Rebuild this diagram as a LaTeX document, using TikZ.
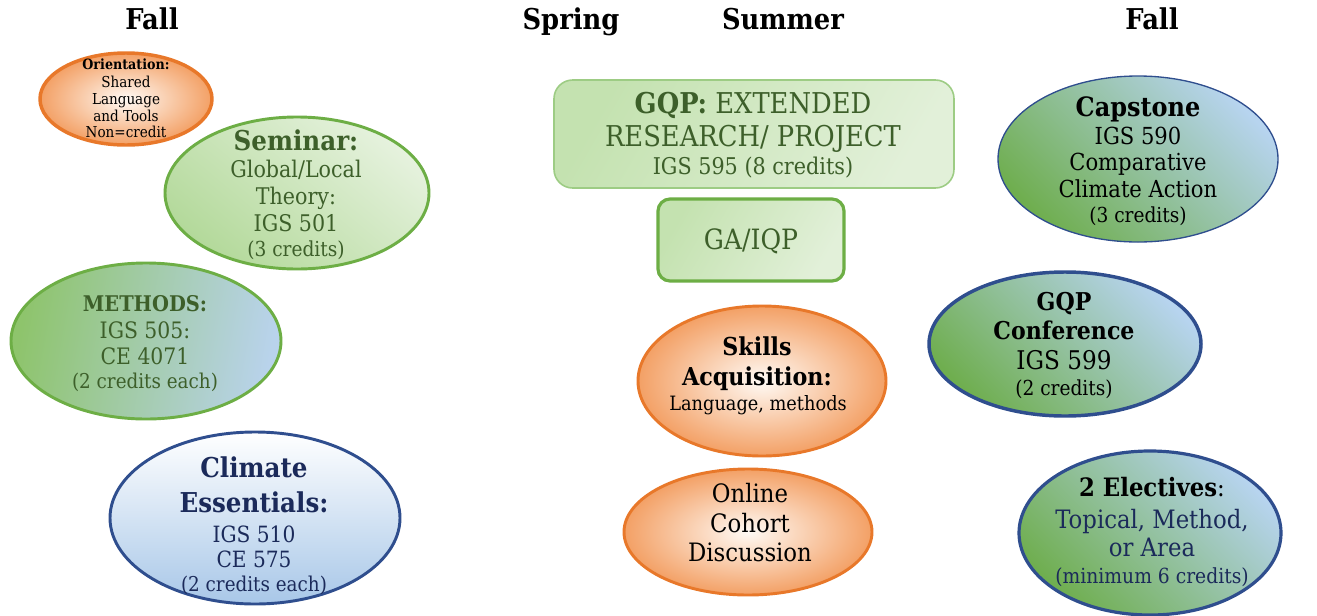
\documentclass[tikz,border=0pt]{standalone}
\usepackage{fontspec}
\setmainfont{DejaVu Serif Condensed}
\usetikzlibrary{shapes.geometric}
\definecolor{orB}{HTML}{E8782A}
\definecolor{orF}{HTML}{F3A065}
\definecolor{grB}{HTML}{6DAE45}
\definecolor{grL}{HTML}{B3D99A}
\definecolor{grW}{HTML}{E6F2DE}
\definecolor{grM}{HTML}{8EC46C}
\definecolor{blL}{HTML}{B9D3EC}
\definecolor{blB}{HTML}{2F4E8E}
\definecolor{blF}{HTML}{A8C7E8}
\definecolor{gDk}{HTML}{3D5F2A}
\definecolor{navy}{HTML}{1B2A5A}
\definecolor{cG}{HTML}{6FAE4F}
\definecolor{cB}{HTML}{B7D4EF}
\definecolor{rF1}{HTML}{C4E2B0}
\definecolor{rF2}{HTML}{E2F0D9}
\definecolor{rB}{HTML}{9DCC84}
\newcommand{\fs}[1]{\fontsize{#1}{#1}\selectfont}
\tikzset{
  ell/.style={shape=ellipse, inner sep=0pt, line width=2.2pt},
  ln/.style={inner sep=0pt, anchor=base, font=\fs{#1}, yshift=-0.34*#1 pt},
  lnb/.style={ln=#1, font=\fs{#1}\bfseries},
  hd/.style={lnb=21.5},
}
\begin{document}
\begin{tikzpicture}[x=0.75pt,y=-0.75pt]
\useasboundingbox (0,0) rectangle (1317,615);
% headers
\node[hd] (h1) at (152,20) {Fall};
\node[hd] (h2) at (571,20) {Spring};
\node[hd] (h3) at (783,20) {Summer};
\node[hd] (h4) at (1152,20) {Fall};

% Orientation
\node[ell, draw=orB, line width=2.6pt, inner color=orange!4, outer color=orF,
  minimum width=172*0.75pt, minimum height=92*0.75pt] (ori) at (126,99) {};
\node[lnb=10.6] (o1) at (126,65) {Orientation:};
\node[ln=11.3] (o2) at (126,82) {Shared};
\node[ln=11.3] (o3) at (126,99) {Language};
\node[ln=11.3] (o4) at (126,116) {and Tools};
\node[ln=11.3] (o5) at (126,132) {Non=credit};

% Seminar
\node[ell, draw=grB, bottom color=grL, top color=grW, shading angle=-40,
  minimum width=264*0.75pt, minimum height=152*0.75pt] (sem) at (297,193) {};
\node[lnb=20.5, text=gDk] (s1) at (296,141) {Seminar:};
\node[ln=17.2, text=gDk] (s2) at (296,170) {Global/Local};
\node[ln=17.2, text=gDk] (s3) at (296,197) {Theory:};
\node[ln=17.2, text=gDk] (s4) at (296,224) {IGS 501};
\node[ln=15.5, text=gDk] (s5) at (296,249) {(3 credits)};

% Methods
\node[ell, draw=grB, left color=grM, right color=blL, shading angle=80,
  minimum width=270*0.75pt, minimum height=156*0.75pt] (met) at (146,341) {};
\node[lnb=16.2, text=gDk] (m1) at (145,304) {METHODS:};
\node[ln=17, text=gDk] (m2) at (145,331) {IGS 505:};
\node[ln=17, text=gDk] (m3) at (145,357) {CE 4071};
\node[ln=15.3, text=gDk] (m4) at (145,382) {(2 credits each)};

% Climate essentials
\node[ell, draw=blB, top color=white, bottom color=blF,
  minimum width=290*0.75pt, minimum height=172*0.75pt] (cli) at (255,518) {};
\node[lnb=20.5, text=navy] (c1) at (254,468) {Climate};
\node[lnb=20.5, text=navy] (c2) at (254,503) {Essentials:};
\node[ln=16.8, text=navy] (c3) at (254,535) {IGS 510};
\node[ln=16.8, text=navy] (c4) at (254,560) {CE 575};
\node[ln=15.3, text=navy] (c5) at (254,585) {(2 credits each)};

% GQP extended research
\node[draw=rB, line width=1.2pt, rounded corners=14pt, left color=rF1, right color=rF2, shading angle=60,
  minimum width=400*0.75pt, minimum height=108*0.75pt, inner sep=0pt] (gqp) at (754,134) {};
\node[ln=21.5, text=gDk] (g1) at (753,104) {\textbf{GQP:} EXTENDED};
\node[ln=21.5, text=gDk] (g2) at (753,137) {RESEARCH/ PROJECT};
\node[ln=17.3, text=gDk] (g3) at (753,167) {IGS 595 (8 credits)};

% GA/IQP
\node[draw=grB, line width=2.4pt, rounded corners=9pt, left color=rF1, right color=rF2, shading angle=60,
  minimum width=186*0.75pt, minimum height=82*0.75pt, inner sep=0pt] (ga) at (751,240) {};
\node[ln=21, text=gDk] (ga1) at (751,240) {GA/IQP};

% Skills
\node[ell, draw=orB, inner color=orange!4, outer color=orF,
  minimum width=248*0.75pt, minimum height=150*0.75pt] (sk) at (762,381) {};
\node[lnb=18.5] (k1) at (757,347) {Skills};
\node[lnb=18.5] (k2) at (757,377) {Acquisition:};
\node[ln=14.8] (k3) at (758,404) {Language, methods};

% Online
\node[ell, draw=orB, inner color=orange!4, outer color=orF,
  minimum width=248*0.75pt, minimum height=126*0.75pt] (onl) at (748,532) {};
\node[ln=19] (n1) at (750,494) {Online};
\node[ln=19] (n2) at (750,524) {Cohort};
\node[ln=19] (n3) at (750,553) {Discussion};

% Capstone
\node[ell, draw=blB, line width=1pt, top color=cB, bottom color=cG, shading angle=-45,
  minimum width=280*0.75pt, minimum height=166*0.75pt] (cap) at (1138,159) {};
\node[lnb=20] (p1) at (1138,107) {Capstone};
\node[ln=17.6] (p2) at (1138,137) {IGS 590};
\node[ln=17.6] (p3) at (1138,163) {Comparative};
\node[ln=17.6] (p4) at (1138,190) {Climate Action};
\node[ln=15.5] (p5) at (1138,215) {(3 credits)};

% GQP Conference
\node[ell, draw=blB, line width=2.6pt, top color=cB, bottom color=cG, shading angle=-45,
  minimum width=272*0.75pt, minimum height=144*0.75pt] (con) at (1065,344) {};
\node[lnb=18.4] (f1) at (1064,302) {GQP};
\node[lnb=18.4] (f2) at (1064,331) {Conference};
\node[ln=19.3] (f3) at (1064,361) {IGS 599};
\node[ln=15.5] (f4) at (1064,388) {(2 credits)};

% Electives
\node[ell, draw=blB, line width=2.4pt, top color=cB, bottom color=cG, shading angle=-45,
  minimum width=262*0.75pt, minimum height=164*0.75pt] (ele) at (1150,533) {};
\node[ln=19] (e1) at (1152,488) {\textbf{2 Electives}:};
\node[ln=19, text=navy] (e2) at (1152,520) {Topical, Method,};
\node[ln=19, text=navy] (e3) at (1152,548) {or Area};
\node[ln=15.6, text=navy] (e4) at (1152,576) {(minimum 6 credits)};
\end{tikzpicture}
\end{document}
